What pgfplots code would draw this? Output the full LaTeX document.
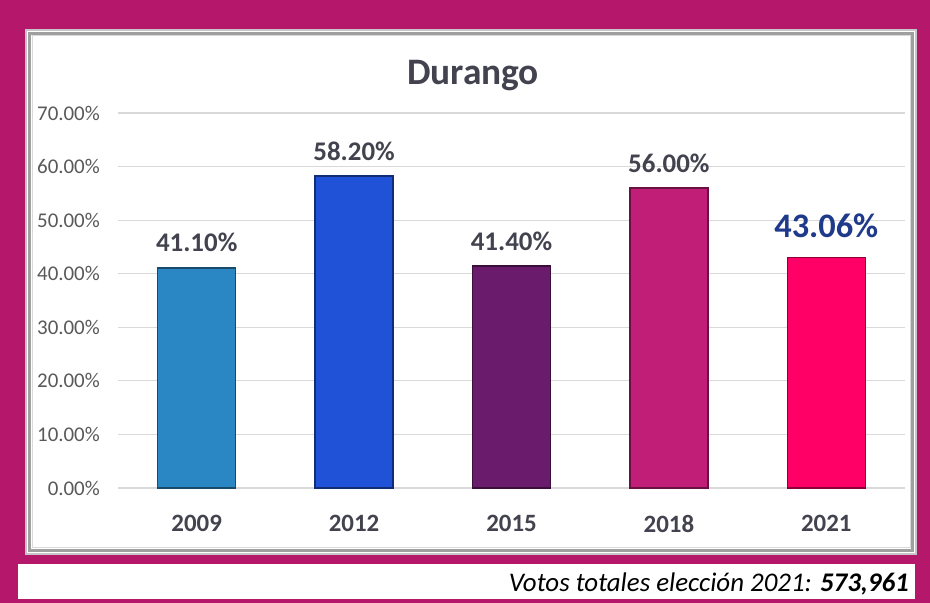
\documentclass[border=0pt]{standalone}
\usepackage{fontspec}
\setmainfont{Carlito}
\usepackage{pgfplots}
\pgfplotsset{compat=1.18}
\definecolor{bgmag}{HTML}{B5186B}
\definecolor{c09}{HTML}{2B86C4}
\definecolor{c12}{HTML}{1F52D6}
\definecolor{c15}{HTML}{6A1B6C}
\definecolor{c18}{HTML}{C11E78}
\definecolor{c21}{HTML}{FF0066}
\definecolor{lab}{HTML}{43434F}
\definecolor{tickc}{HTML}{595959}
\definecolor{blu}{HTML}{1F3A8A}
\definecolor{gridc}{HTML}{D9D9D9}
\begin{document}
\begin{tikzpicture}
\useasboundingbox (0bp,0bp) rectangle (930bp,603bp);
\fill[bgmag] (0bp,0bp) rectangle (930bp,603bp);
% inner panel
\fill[white] (25bp,48bp) rectangle (917bp,574bp);
\draw[gray!45, line width=2bp] (26bp,49bp) rectangle (916bp,573bp);
\draw[gray!75, line width=3bp] (29.5bp,52.5bp) rectangle (912.5bp,569.5bp);
\draw[gray!30, line width=1bp] (32bp,55bp) rectangle (910bp,567bp);
% bottom box
\fill[white] (18bp,4bp) rectangle (915bp,39bp);
\node[anchor=base east, inner sep=0pt, font=\fontsize{27}{30}\selectfont\itshape] at (909bp,12bp) {Votos totales elección 2021: \textbf{573,961}};
% title
\node[anchor=base, inner sep=0pt, text=lab, font=\fontsize{37.5}{42}\selectfont\bfseries] at (473bp,518bp) {Durango};
\begin{axis}[
  at={(118bp,115bp)}, anchor=south west,
  scale only axis, width=787bp, height=375bp,
  xmin=-0.5, xmax=4.5, ymin=0, ymax=70,
  ytick={0,10,...,70},
  xtick={0,1,2,3,4},
  xticklabels={2009,2012,2015,2018,2021},
  /pgf/number format/assume math mode=true,
  yticklabel={\pgfmathprintnumber[fixed,fixed zerofill,precision=2]{\tick}\%},
  yticklabel style={anchor=east, inner sep=0pt, xshift=-18bp, text=tickc, font=\fontsize{21}{24}\selectfont},
  xticklabel style={anchor=north, inner sep=0pt, yshift=-27bp, text=lab, font=\fontsize{25}{28}\selectfont\bfseries},
  major tick length=0pt,
  tick style={draw=none},
  axis line style={draw=none},
  ymajorgrids, grid style={gridc, line width=1.2bp},
  ybar, bar width=78bp, bar shift=0pt,
  clip=false,
  nodes near coords,
  nodes near coords style={anchor=south, inner sep=0pt, yshift=15bp, text=lab, font=\fontsize{27}{30}\selectfont\bfseries},
  point meta=explicit symbolic,
]
\addplot[fill=c09, draw=c09!55!black, line width=1.5bp] coordinates {(0,41.10) [41.10\%]};
\addplot[fill=c12, draw=c12!55!black, line width=1.5bp] coordinates {(1,58.20) [58.20\%]};
\addplot[fill=c15, draw=c15!55!black, line width=1.5bp] coordinates {(2,41.40) [41.40\%]};
\addplot[fill=c18, draw=c18!55!black, line width=1.5bp] coordinates {(3,56.00) [56.00\%]};
\addplot[fill=c21, draw=c21!55!black, line width=1.5bp, nodes near coords style={text=blu, yshift=4bp, font=\fontsize{34.5}{38}\selectfont\bfseries}] coordinates {(4,43.06) [43.06\%]};
\end{axis}
\end{tikzpicture}
\end{document}
